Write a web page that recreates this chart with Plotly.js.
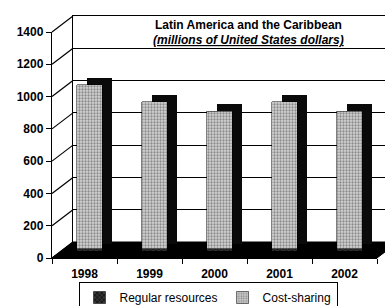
<!DOCTYPE html>
<html><head><meta charset="utf-8">
<script src="https://cdn.plot.ly/plotly-3.0.1.min.js"></script>
<style>html,body{margin:0;padding:0;background:#fff}#chart{width:385px;height:306px}</style>
</head><body><div id="chart"></div>
<script>
// ---- data ----
const years = ['1998', '1999', '2000', '2001', '2002'];
const regularResources = [15, 15, 15, 15, 15];
const costSharing = [1015, 910, 850, 910, 850];
const yTicks = [0, 200, 400, 600, 800, 1000, 1200, 1400];
const titleLine1 = 'Latin America and the Caribbean';
const titleLine2 = '(millions of United States dollars)';

// ---- geometry (pixels) ----
const W = 385, H = 306;
const FL = 52, FR = 377, FB = 258, FT = 32;      // front frame
const DX = 21, DY = 16;                           // depth offset of back wall
const BDX = 5, BDY = 7;                           // bar front face offset
const SDX = 10, SDY = 7;                          // bar side/top offset
const YMAX = 1400;
const pxPerUnit = (FB - FT) / YMAX;
const catPx = (FR - FL) / years.length;
const px = p => p / W, py = p => 1 - p / H;

const totals = years.map((_, i) => regularResources[i] + costSharing[i]);
const font = 'Arial, "Liberation Sans", sans-serif';

const traces = [
  { // keeps the back-wall subplot drawn
    type: 'scatter', mode: 'none', x: [0.5], y: [0], xaxis: 'x', yaxis: 'y',
    showlegend: false, hoverinfo: 'skip'
  },
  { // side/top of 3D bars
    type: 'bar', x: years, y: totals, xaxis: 'x2', yaxis: 'y2', width: 0.385,
    marker: { color: '#0a0a0a', line: { width: 0 } }, showlegend: false, hoverinfo: 'skip'
  },
  {
    type: 'bar', name: 'Regular resources', x: years, y: regularResources, xaxis: 'x3', yaxis: 'y3', width: 0.385,
    marker: { color: '#1a1a1a', line: { color: '#000', width: 0.5 },
      pattern: { shape: 'x', fillmode: 'overlay', bgcolor: '#1a1a1a', fgcolor: '#a0a0a0', size: 4, solidity: 0.25 } }
  },
  {
    type: 'bar', name: 'Cost-sharing', x: years, y: costSharing, xaxis: 'x3', yaxis: 'y3', width: 0.385,
    marker: { color: '#d4d4d4', line: { color: '#000', width: 0.5 },
      pattern: { shape: '.', fillmode: 'overlay', bgcolor: '#d4d4d4', fgcolor: '#404040', size: 3, solidity: 0.45 } }
  },
  { // registers categories on front axis
    type: 'scatter', mode: 'none', x: years, y: years.map(() => 0), xaxis: 'x4', yaxis: 'y4',
    showlegend: false, hoverinfo: 'skip'
  }
];

const shapes = [];
// floor
shapes.push({ type: 'path', xref: 'paper', yref: 'paper', layer: 'below',
  path: `M${px(FL)},${py(FB)} L${px(FR)},${py(FB)} L${px(FR + DX)},${py(FB - DY)} L${px(FL + DX)},${py(FB - DY)} Z`,
  fillcolor: '#000', line: { color: '#000', width: 1 } });
// side wall diagonals
yTicks.forEach(v => {
  const yf = FB - v * pxPerUnit, yb = FB - DY - v * pxPerUnit;
  shapes.push({ type: 'line', xref: 'paper', yref: 'paper', layer: 'below',
    x0: px(FL), y0: py(yf), x1: px(FL + DX), y1: py(yb), line: { color: '#000', width: 1.2 } });
});

const hidden = { visible: false, zeroline: false, showgrid: false, fixedrange: true };
const layout = {
  width: W, height: H, margin: { l: 0, r: 0, t: 0, b: 0, autoexpand: false },
  paper_bgcolor: '#fff', plot_bgcolor: 'rgba(0,0,0,0)',
  barmode: 'stack', showlegend: true,
  font: { family: font, color: '#000', size: 12 },
  // back wall
  xaxis: { domain: [px(FL + DX), 1], range: [0, 1], showline: true, linecolor: '#000', linewidth: 1.2,
    side: 'top', showgrid: false, zeroline: false, showticklabels: false, ticks: '', anchor: 'y' },
  yaxis: { domain: [py(FB - DY), py(FT - DY)], range: [0, YMAX], tickvals: yTicks, showgrid: true,
    gridcolor: '#000', gridwidth: 1.2, showline: true, linecolor: '#000', linewidth: 1.2,
    showticklabels: false, ticks: '', zeroline: false, anchor: 'x' },
  // bar sides
  xaxis2: Object.assign({ domain: [px(FL + BDX), px(FR + BDX)], type: 'category',
    range: [-0.5 - SDX / catPx, years.length - 0.5 - SDX / catPx], anchor: 'y2' }, hidden),
  yaxis2: Object.assign({ domain: [py(FB - BDY), py(FT - BDY)],
    range: [-SDY / pxPerUnit, YMAX - SDY / pxPerUnit], anchor: 'x2' }, hidden),
  // bar fronts
  xaxis3: Object.assign({ domain: [px(FL + BDX), px(FR + BDX)], type: 'category',
    range: [-0.5, years.length - 0.5], anchor: 'y3' }, hidden),
  yaxis3: Object.assign({ domain: [py(FB - BDY), py(FT - BDY)], range: [0, YMAX], anchor: 'x3' }, hidden),
  // front axes
  xaxis4: { domain: [px(FL), px(FR)], type: 'category', range: [-0.5, years.length - 0.5], anchor: 'y4',
    showline: true, linecolor: '#000', linewidth: 1.2, ticks: 'outside', tickson: 'boundaries',
    ticklen: 5, tickcolor: '#000', showgrid: false, zeroline: false, ticklabelstandoff: 4,
    tickfont: { family: font, size: 12, weight: 'bold' } },
  yaxis4: { domain: [py(FB), py(FT)], range: [0, YMAX], tickvals: yTicks, anchor: 'x4',
    showline: true, linecolor: '#000', linewidth: 1.2, ticks: 'outside', ticklen: 5, tickcolor: '#000',
    showgrid: false, zeroline: false, tickfont: { family: font, size: 12, weight: 'bold' } },
  legend: { orientation: 'h', x: px(208), xanchor: 'center', yref: 'container', y: py(282), yanchor: 'top',
    bordercolor: '#000', borderwidth: 1, bgcolor: '#fff', font: { family: font, size: 12 },
    traceorder: 'normal', itemwidth: 30, tracegroupgap: 0 },
  annotations: [
    { text: '<b>' + titleLine1 + '</b>', xref: 'paper', yref: 'paper', x: px(248), y: py(25),
      xanchor: 'center', yanchor: 'middle', showarrow: false, font: { family: font, size: 12 } },
    { text: '<b><i><span style="text-decoration:underline">' + titleLine2 + '</span></i></b>', xref: 'paper', yref: 'paper',
      x: px(248), y: py(40), xanchor: 'center', yanchor: 'middle', showarrow: false, font: { family: font, size: 12 } }
  ],
  shapes: shapes
};

Plotly.newPlot('chart', traces, layout, { displayModeBar: false, staticPlot: true });
</script></body></html>
